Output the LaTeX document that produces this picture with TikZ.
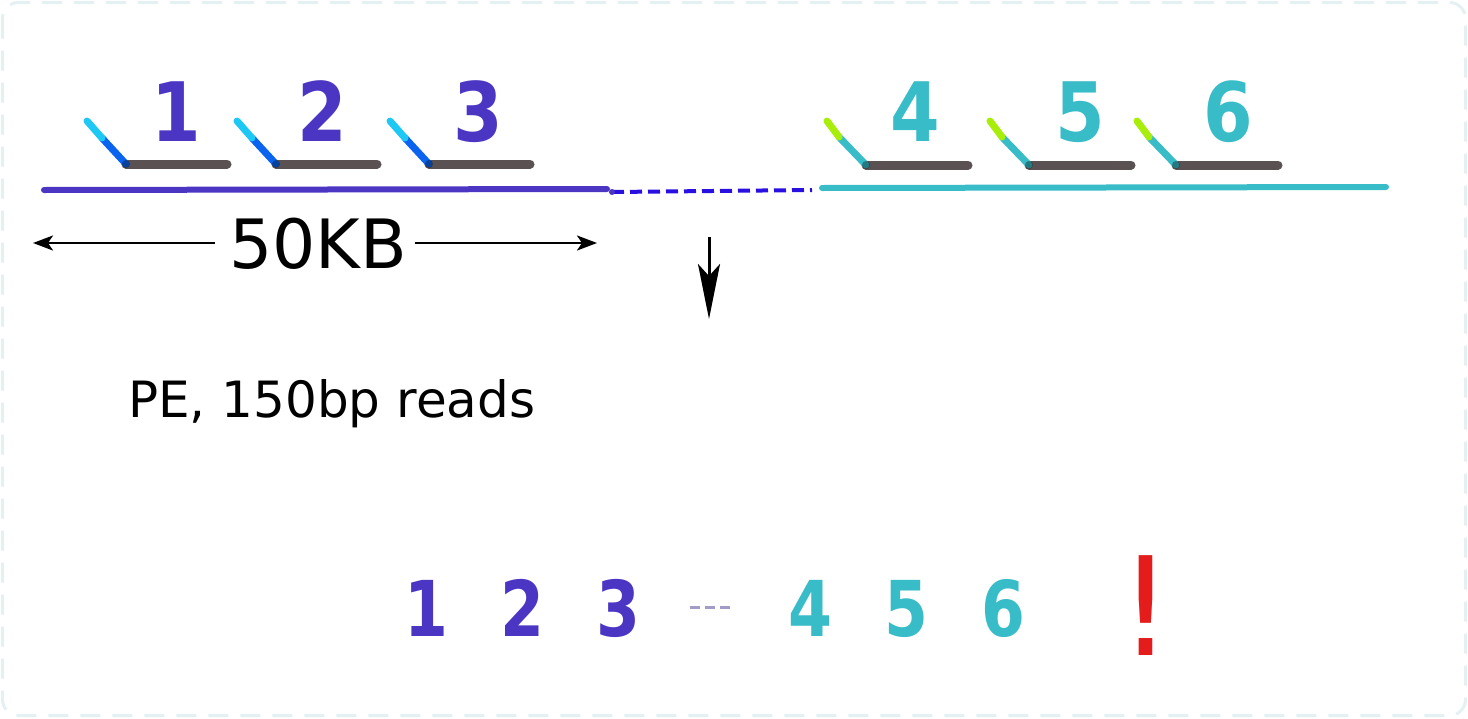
\documentclass[tikz,border=0pt]{standalone}
\usepackage{fontspec}
\setmainfont{DejaVu Sans}
\usetikzlibrary{arrows.meta}
\definecolor{purp}{HTML}{4B36C4}
\definecolor{tealc}{HTML}{38BCC8}
\definecolor{gbar}{HTML}{5A5252}
\definecolor{lcyan}{HTML}{1EC8F5}
\definecolor{dblue}{HTML}{0A64F0}
\definecolor{lgreen}{HTML}{A8EE0A}
\definecolor{dashblue}{HTML}{2A10E0}
\definecolor{bordc}{HTML}{E4F0F2}
\definecolor{softp}{HTML}{A49CC8}
\definecolor{redc}{HTML}{E41C1C}
\newcommand{\topdig}[1]{\scalebox{0.87}[1]{#1}}
\newcommand{\botdig}[1]{\scalebox{0.82}[1]{#1}}
\tikzset{
  topnum/.style={anchor=base, inner sep=0pt, font=\fontsize{82}{98}\selectfont\bfseries},
  botnum/.style={anchor=base, inner sep=0pt, font=\fontsize{77}{94}\selectfont\bfseries},
  longline/.style={line width=6, line cap=round},
  barline/.style={gbar, line width=9, line cap=round},
  tiltline/.style={line width=7, line cap=round},
  dimarrow/.style={line width=2.5, -{Stealth[length=20,width=15,inset=5]}},
}
\begin{document}
\begin{tikzpicture}[x=1pt,y=-1pt]
\useasboundingbox (0,0) rectangle (1468,718);
\draw[bordc, line width=3, dash pattern=on 20 off 12, rounded corners=16] (2.5,2.5) rectangle (1465.5,715.5);

% long lines
\draw[longline, purp] (44,190) -- (607,189);
\draw[dashblue, line width=4, dash pattern=on 12 off 6] (612,192) -- (812,190);
\fill[purp] (612,192) circle (3);
\draw[longline, tealc] (822,188) -- (1386,187);

% left reads
\foreach \x/\n/\c in {87/1/176, 237/2/322, 390/3/478}{
  \draw[barline] (\x+39,164) -- (\x+140,164);
  \draw[tiltline, dblue] (\x+15,138) -- (\x+39,164);
  \draw[tiltline, lcyan] (\x,121) -- (\x+15,138);
  \fill[black, opacity=0.35] (\x+39,164) circle (4);
  \node[topnum, text=purp] (t\n) at (\c,141) {\topdig{\n}};
}
% right reads
\foreach \x/\n/\c in {827/4/915, 990/5/1080, 1137/6/1228}{
  \draw[barline] (\x+39,165) -- (\x+141,165);
  \draw[tiltline, tealc] (\x+12,137) -- (\x+39,165);
  \draw[tiltline, lgreen] (\x,121) -- (\x+12,137);
  \fill[black, opacity=0.35] (\x+39,165) circle (4);
  \node[topnum, text=tealc] (t\n) at (\c,141) {\topdig{\n}};
}

% 50KB dimension
\node[anchor=base, inner sep=0pt, font=\fontsize{68}{80}\selectfont] (kb) at (318,268) {50KB};
\coordinate (la) at (215,243);
\coordinate (lb) at (33,243);
\coordinate (ra) at (415,243);
\coordinate (rb) at (597,243);
\draw[dimarrow] (la) -- (lb);
\draw[dimarrow] (ra) -- (rb);

% down arrow
\coordinate (da) at (709,237);
\coordinate (db) at (709,319);
\draw[line width=3, -{Stealth[length=55,width=22,inset=12]}] (da) -- (db);

% PE text
\node[anchor=base west, inner sep=0pt, font=\fontsize{50}{60}\selectfont] (pe) at (128,417) {PE, 150bp reads};

% bottom row
\node[botnum, text=purp] (b1) at (426,636) {\botdig{1}};
\node[botnum, text=purp] (b2) at (522,636) {\botdig{2}};
\node[botnum, text=purp] (b3) at (618,636) {\botdig{3}};
\coordinate (ga) at (690,607);
\coordinate (gb) at (731,607);
\draw[softp, line width=3, dash pattern=on 10 off 5] (ga) -- (gb);
\node[botnum, text=tealc] (b4) at (810,636) {\botdig{4}};
\node[botnum, text=tealc] (b5) at (906,636) {\botdig{5}};
\node[botnum, text=tealc] (b6) at (1003,636) {\botdig{6}};
\node[anchor=base, inner sep=0pt, text=redc, font=\fontsize{137}{160}\selectfont] (ex) at (1146,655) {!};
\end{tikzpicture}
\end{document}
